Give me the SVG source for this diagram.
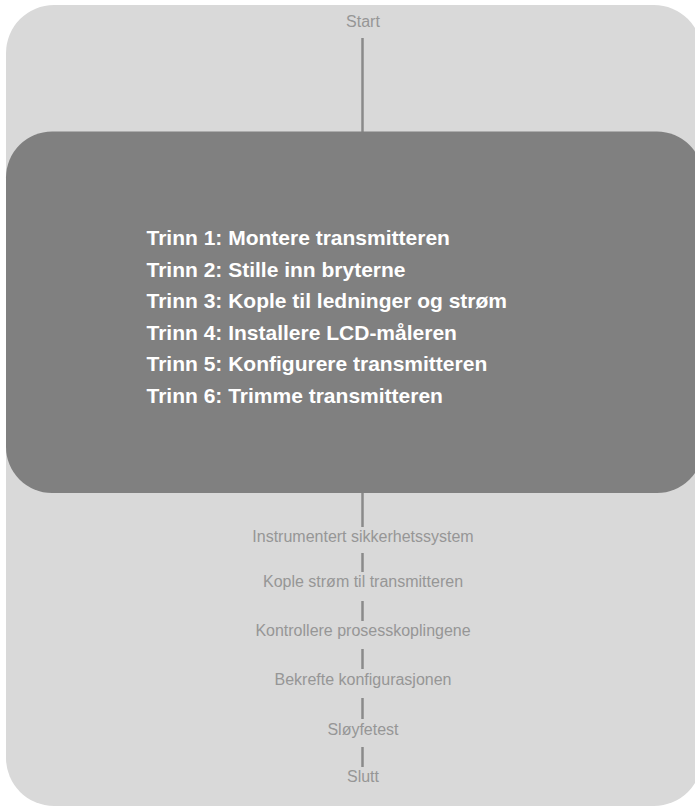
<svg xmlns="http://www.w3.org/2000/svg" width="695" height="807" viewBox="0 0 695 807">
  <style>
    .lbl { font-family: "Liberation Sans", Arial, sans-serif; font-size: 16px; fill: #969696; text-anchor: middle; }
    .step { font-family: "Liberation Sans", Arial, sans-serif; font-size: 21px; font-weight: bold; fill: #ffffff; }
    .conn { stroke: #8a8a8a; stroke-width: 2.5; fill: none; }
  </style>
  <rect width="695" height="807" fill="#ffffff"/>
  <g id="background">
    <rect x="6" y="5" width="696" height="801" rx="48" ry="48" fill="#d9d9d9"/>
  </g>
  <g id="connectors">
    <line class="conn" x1="362.5" y1="38" x2="362.5" y2="132"/>
    <line class="conn" x1="362.5" y1="492" x2="362.5" y2="527"/>
    <line class="conn" x1="362.5" y1="553" x2="362.5" y2="572"/>
    <line class="conn" x1="362.5" y1="601" x2="362.5" y2="621"/>
    <line class="conn" x1="362.5" y1="649" x2="362.5" y2="669"/>
    <line class="conn" x1="362.5" y1="698" x2="362.5" y2="719"/>
    <line class="conn" x1="362.5" y1="747" x2="362.5" y2="767"/>
  </g>
  <g id="start">
    <text class="lbl" x="363" y="27">Start</text>
  </g>
  <g id="steps">
    <rect x="6" y="131.5" width="697" height="361.5" rx="46" ry="46" fill="#808080"/>
    <text class="step" x="146.5" y="245">Trinn 1: Montere transmitteren</text>
    <text class="step" x="146.5" y="276.6">Trinn 2: Stille inn bryterne</text>
    <text class="step" x="146.5" y="308.2">Trinn 3: Kople til ledninger og strøm</text>
    <text class="step" x="146.5" y="339.8">Trinn 4: Installere LCD-måleren</text>
    <text class="step" x="146.5" y="371.4">Trinn 5: Konfigurere transmitteren</text>
    <text class="step" x="146.5" y="403">Trinn 6: Trimme transmitteren</text>
  </g>
  <g id="sis">
    <text class="lbl" x="363" y="541.5">Instrumentert sikkerhetssystem</text>
  </g>
  <g id="power">
    <text class="lbl" x="363" y="587">Kople strøm til transmitteren</text>
  </g>
  <g id="process">
    <text class="lbl" x="363" y="636">Kontrollere prosesskoplingene</text>
  </g>
  <g id="config">
    <text class="lbl" x="363" y="684.5">Bekrefte konfigurasjonen</text>
  </g>
  <g id="loop">
    <text class="lbl" x="363" y="734.5">Sløyfetest</text>
  </g>
  <g id="end">
    <text class="lbl" x="363" y="781.5">Slutt</text>
  </g>
</svg>
